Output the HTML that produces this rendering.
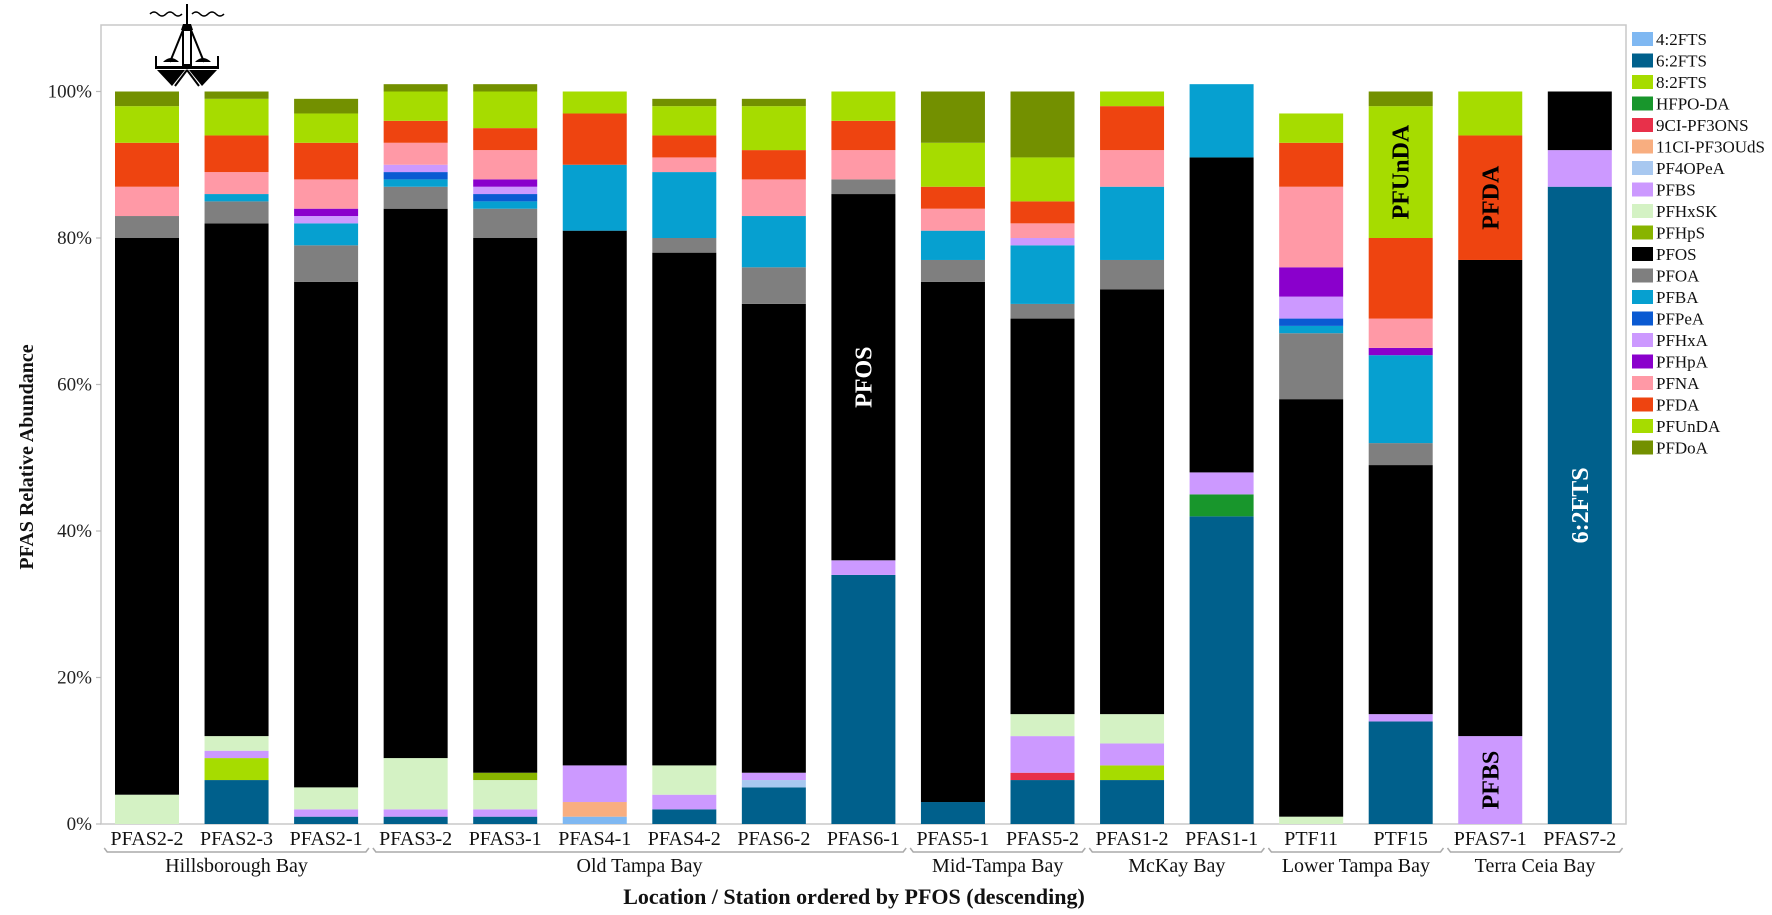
<!DOCTYPE html>
<html><head><meta charset="utf-8"><style>
html,body{margin:0;padding:0;background:#fff;}
svg text{font-family:"Liberation Serif",serif;}
</style></head><body>
<svg id="chart" width="1772" height="910" xmlns="http://www.w3.org/2000/svg"></svg>
<script>
const stations = ["PFAS2-2","PFAS2-3","PFAS2-1","PFAS3-2","PFAS3-1","PFAS4-1","PFAS4-2","PFAS6-2","PFAS6-1","PFAS5-1","PFAS5-2","PFAS1-2","PFAS1-1","PTF11","PTF15","PFAS7-1","PFAS7-2"];
const groupNames = ["Hillsborough Bay","Old Tampa Bay","Mid-Tampa Bay","McKay Bay","Lower Tampa Bay","Terra Ceia Bay"];
const groupStart = [0,3,9,11,13,15];
const groupEnd = [2,8,10,12,14,16];
const compounds = ["4:2FTS","6:2FTS","8:2FTS","HFPO-DA","9Cl-PF3ONS","11Cl-PF3OUdS","PF4OPeA","PFBS","PFHxSK","PFHpS","PFOS","PFOA","PFBA","PFPeA","PFHxA","PFHpA","PFNA","PFDA","PFUnDA","PFDoA"];
const legendLabels = ["4:2FTS","6:2FTS","8:2FTS","HFPO-DA","9CI-PF3ONS","11CI-PF3OUdS","PF4OPeA","PFBS","PFHxSK","PFHpS","PFOS","PFOA","PFBA","PFPeA","PFHxA","PFHpA","PFNA","PFDA","PFUnDA","PFDoA"];
const colors = ["#7fb8f2","#00608c","#a6dc00","#18962c","#e8304a","#f8ae80","#a8c8f0","#cc99ff","#d4f2c4","#88b400","#000000","#7f7f7f","#06a0d0","#0a5ad2","#cc99ff","#8a00cc","#ff99a6","#ee4410","#a6dc00","#739000"];
const yTicks = [0,20,40,60,80,100];
const yTickLabels = ["0%","20%","40%","60%","80%","100%"];
// values per station, in compound order (percent)
const v_PFAS2_2 = [0,0,0,0,0,0,0,0,4,0,76,3,0,0,0,0,4,6,5,2];
const v_PFAS2_3 = [0,6,3,0,0,0,0,1,2,0,70,3,1,0,0,0,3,5,5,1];
const v_PFAS2_1 = [0,1,0,0,0,0,0,1,3,0,69,5,3,0,1,1,4,5,4,2];
const v_PFAS3_2 = [0,1,0,0,0,0,0,1,7,0,75,3,1,1,1,0,3,3,4,1];
const v_PFAS3_1 = [0,1,0,0,0,0,0,1,4,1,73,4,1,1,1,1,4,3,5,1];
const v_PFAS4_1 = [1,0,0,0,0,2,0,5,0,0,73,0,9,0,0,0,0,7,3,0];
const v_PFAS4_2 = [0,2,0,0,0,0,0,2,4,0,70,2,9,0,0,0,2,3,4,1];
const v_PFAS6_2 = [0,5,0,0,0,0,1,1,0,0,64,5,7,0,0,0,5,4,6,1];
const v_PFAS6_1 = [0,34,0,0,0,0,0,2,0,0,50,2,0,0,0,0,4,4,4,0];
const v_PFAS5_1 = [0,3,0,0,0,0,0,0,0,0,71,3,4,0,0,0,3,3,6,7];
const v_PFAS5_2 = [0,6,0,0,1,0,0,5,3,0,54,2,8,0,1,0,2,3,6,9];
const v_PFAS1_2 = [0,6,2,0,0,0,0,3,4,0,58,4,10,0,0,0,5,6,2,0];
const v_PFAS1_1 = [0,42,0,3,0,0,0,3,0,0,43,0,10,0,0,0,0,0,0,0];
const v_PTF11 = [0,0,0,0,0,0,0,0,1,0,57,9,1,1,3,4,11,6,4,0];
const v_PTF15 = [0,14,0,0,0,0,0,1,0,0,34,3,12,0,0,1,4,11,18,2];
const v_PFAS7_1 = [0,0,0,0,0,0,0,12,0,0,65,0,0,0,0,0,0,17,6,0];
const v_PFAS7_2 = [0,87,0,0,0,0,0,5,0,0,8,0,0,0,0,0,0,0,0,0];
const values = [v_PFAS2_2,v_PFAS2_3,v_PFAS2_1,v_PFAS3_2,v_PFAS3_1,v_PFAS4_1,v_PFAS4_2,v_PFAS6_2,v_PFAS6_1,v_PFAS5_1,v_PFAS5_2,v_PFAS1_2,v_PFAS1_1,v_PTF11,v_PTF15,v_PFAS7_1,v_PFAS7_2];
// in-bar annotations: station index, compound index, text, color
const annStation = [8,14,15,15,16];
const annCompound = [10,18,17,7,1];
const annText = ["PFOS","PFUnDA","PFDA","PFBS","6:2FTS"];
const annColor = ["#fff","#000","#000","#000","#fff"];

const NS = "http://www.w3.org/2000/svg";
const svg = document.getElementById("chart");
function mk(tag, attrs, parent){const e=document.createElementNS(NS,tag);for(const k in attrs)e.setAttribute(k,attrs[k]);(parent||svg).appendChild(e);return e;}
const plotL=101, plotR=1626, plotT=25, y0=824, y100=91.5;
const step=89.55, x0=147, barW=64;
function yScale(p){return y0-(y0-y100)*p/100;}
function xScale(i){return x0+i*step;}

// plot frame
const frame = mk("rect",{x:plotL,y:plotT,width:plotR-plotL,height:y0-plotT,fill:"none",stroke:"#c8c8c8","stroke-width":1.5});



// y ticks
yTicks.forEach((t,i)=>{
  const y=yScale(t);
  const tk=mk("line",{x1:plotL-5,x2:plotL,y1:y,y2:y,stroke:"#bbb","stroke-width":1.2});
  
  
  const lb=mk("text",{x:plotL-9,y:y+6,"text-anchor":"end","font-size":19,fill:"#222"});
  lb.textContent=yTickLabels[i];
  
  
});
const yt=mk("text",{x:0,y:0,transform:"translate(33,457) rotate(-90)","text-anchor":"middle","font-size":20,"font-weight":"bold",fill:"#111"});
yt.textContent="PFAS Relative Abundance";



// bars
values.forEach((vals,i)=>{
  let cum=0;
  const g=mk("g",{});
  
  
  vals.forEach((v,k)=>{
    if(v<=0)return;
    const yt2=yScale(cum+v), yb=yScale(cum);
    const r=mk("rect",{x:xScale(i)-barW/2,y:yt2,width:barW,height:yb-yt2,fill:colors[k]},g);
    
    
    cum+=v;
  });
  const lb=mk("text",{x:xScale(i),y:845,"text-anchor":"middle","font-size":20,fill:"#111"});
  lb.textContent=stations[i];
  
  
});

// annotations
annStation.forEach((s,j)=>{
  const vals=values[s];let cum=0;for(let k=0;k<annCompound[j];k++)cum+=vals[k];
  const mid=yScale(cum+vals[annCompound[j]]/2);
  const t=mk("text",{x:0,y:0,transform:"translate("+(xScale(s)+8)+","+mid+") rotate(-90)","text-anchor":"middle","font-size":24,"font-weight":"bold",fill:annColor[j]});
  t.textContent=annText[j];
  
  
});

// group brackets
groupNames.forEach((n,g)=>{
  const xa=xScale(groupStart[g])-step/2+2, xb=xScale(groupEnd[g])+step/2-2;
  const p=mk("path",{d:"M"+xa+",848 L"+(xa+3)+",852 L"+(xb-3)+",852 L"+xb+",848",fill:"none",stroke:"#aaa","stroke-width":1.5});
  
  
  const t=mk("text",{x:(xa+xb)/2,y:872,"text-anchor":"middle","font-size":20,fill:"#111"});
  t.textContent=n;
  
  
});
const xt=mk("text",{x:854,y:904,"text-anchor":"middle","font-size":22,"font-weight":"bold",fill:"#111"});
xt.textContent="Location / Station ordered by PFOS (descending)";



// legend
legendLabels.forEach((n,k)=>{
  const y=39+k*21.5;
  const g=mk("g",{});
  
  
  mk("rect",{x:1632,y:y-7,width:21,height:14,fill:colors[k]},g);
  const t=mk("text",{x:1656,y:y+6,"font-size":17,fill:"#111"},g);
  t.textContent=n;
});

// sampler icon
const ic=mk("g",{});


mk("path",{d:"M150,14 q4,-4 8,0 t8,0 t8,0 t8,0 M192,14 q4,-4 8,0 t8,0 t8,0 t8,0",fill:"none",stroke:"#000","stroke-width":1.5},ic);
mk("line",{x1:187,y1:4,x2:187,y2:24,stroke:"#000","stroke-width":2},ic);
mk("path",{d:"M183,24 L191,24 L193,30 L181,30 Z",fill:"#000"},ic);
mk("path",{d:"M183,30 L170,62 M191,30 L204,62",stroke:"#000","stroke-width":2,fill:"none"},ic);
mk("rect",{x:183,y:30,width:8,height:35,fill:"#fff",stroke:"#000","stroke-width":2},ic);
mk("path",{d:"M163,62 q8,-8 16,0 Z M195,62 q8,-8 16,0 Z",fill:"#000"},ic);
mk("path",{d:"M156,56 L156,68 L218,68 L218,56",fill:"none",stroke:"#000","stroke-width":2},ic);
mk("rect",{x:156,y:66,width:62,height:3,fill:"#000"},ic);
mk("path",{d:"M157,70 L185,70 L172,86 Z M189,70 L217,70 L202,86 Z",fill:"#000"},ic);
mk("path",{d:"M187,70 L175,86 M187,70 L199,86",stroke:"#000","stroke-width":2},ic);
</script>
</body></html>
